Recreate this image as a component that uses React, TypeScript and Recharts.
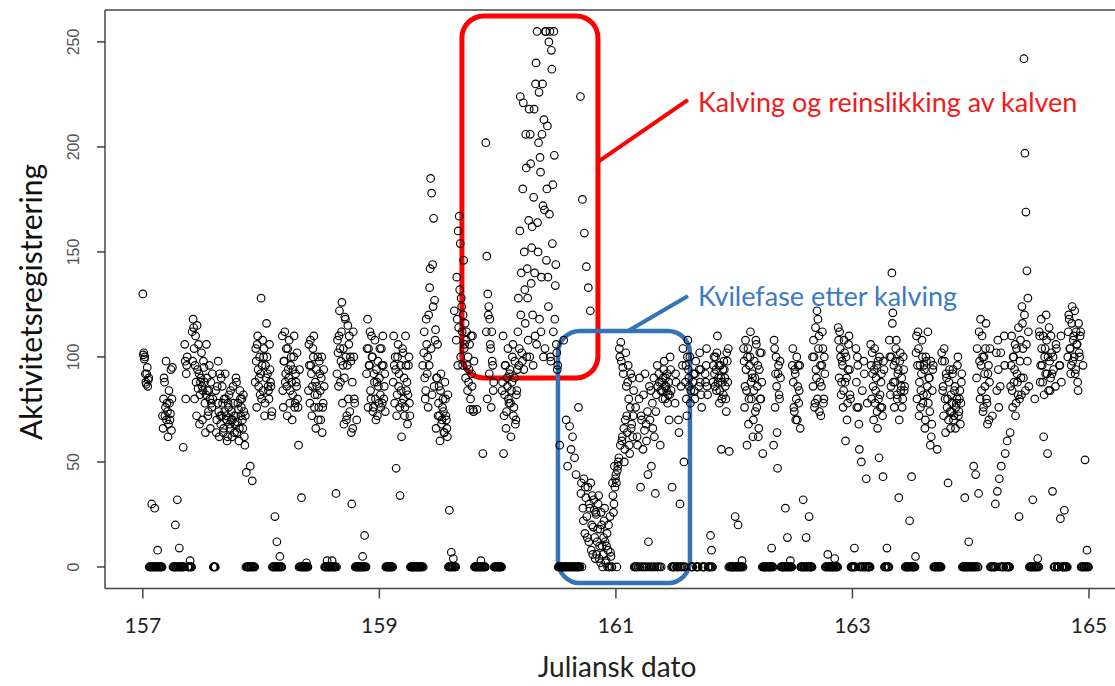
import React from "react";
import { ScatterChart, Scatter, XAxis, YAxis, ReferenceArea, ReferenceLine, Label } from "recharts";

// activity counts, logged every 6 minutes: "a" arrays hold the samples on the
// 12-minute marks, "b" arrays the samples in between (120 + 120 per julian day)
const day157a = [
  130, 102, 100, 88, 92, 86, 90, 0, 0, 30,
  0, 0, 28, 0, 0, 8, 0, 0, 0, 0,
  72, 80, 88, 76, 70, 74, 68, 78, 73, 65,
  95, 0, 0, 20, 0, 32, 0, 9, 0, 0,
  0, 57, 0, 98, 92, 100, 0, 0, 3, 0,
  112, 118, 104, 96, 88, 115, 85, 92, 82, 90,
  86, 84, 95, 78, 82, 90, 72, 84, 80, 88,
  76, 80, 0, 0, 84, 70, 78, 74, 92, 68,
  72, 78, 66, 74, 80, 70, 62, 76, 68, 84,
  74, 70, 78, 64, 72, 88, 69, 75, 66, 80,
  76, 70, 82, 62, 72, 45, 0, 0, 0, 48,
  0, 41, 0, 0, 88, 98, 106, 94, 90, 82,
];
const day157b = [
  101, 99, 92, 87, 95, 89, 0, 0, 0, 0,
  0, 0, 0, 0, 0, 0, 0, 0, 0, 0,
  66, 90, 72, 98, 78, 62, 84, 70, 94, 80,
  0, 0, 0, 0, 0, 0, 0, 0, 0, 0,
  0, 0, 106, 80, 96, 0, 0, 0, 0, 0,
  98, 114, 80, 110, 72, 94, 106, 68, 88, 102,
  70, 98, 88, 64, 106, 84, 74, 96, 66, 78,
  92, 0, 0, 0, 64, 86, 98, 62, 72, 90,
  86, 64, 80, 92, 72, 60, 78, 82, 66, 70,
  62, 86, 72, 68, 90, 64, 78, 60, 84, 72,
  80, 66, 74, 58, 0, 0, 0, 0, 0, 0,
  0, 0, 0, 0, 104, 76, 110, 86, 100, 92,
];
const day158a = [
  128, 96, 84, 104, 78, 90, 100, 86, 80, 94,
  86, 74, 0, 0, 24, 0, 12, 0, 0, 5,
  0, 0, 84, 98, 112, 92, 86, 104, 90, 78,
  96, 88, 82, 100, 76, 92, 86, 80, 58, 94,
  0, 33, 0, 0, 0, 0, 2, 0, 84, 96,
  108, 92, 86, 100, 76, 88, 94, 82, 70, 98,
  84, 90, 64, 78, 86, 0, 0, 3, 0, 0,
  0, 0, 3, 0, 0, 0, 35, 92, 102, 110,
  104, 98, 126, 96, 68, 119, 100, 72, 115, 106,
  74, 98, 30, 66, 100, 78, 0, 70, 0, 0,
  0, 0, 0, 5, 0, 15, 0, 92, 118, 104,
  96, 84, 110, 100, 76, 88, 80, 94, 72, 86,
];
const day158b = [
  80, 108, 100, 72, 96, 116, 92, 84, 106, 88,
  72, 0, 0, 0, 0, 0, 0, 0, 0, 0,
  0, 110, 76, 98, 88, 104, 72, 94, 108, 84,
  100, 70, 94, 110, 78, 88, 102, 76, 0, 0,
  0, 0, 0, 0, 0, 0, 0, 0, 106, 78,
  96, 72, 104, 110, 82, 66, 86, 100, 76, 92,
  70, 100, 76, 94, 0, 0, 0, 0, 0, 0,
  0, 0, 0, 0, 0, 0, 0, 108, 86, 122,
  88, 112, 78, 104, 90, 118, 70, 96, 80, 110,
  100, 64, 88, 112, 80, 0, 0, 0, 0, 0,
  0, 0, 0, 0, 0, 0, 0, 104, 76, 96,
  112, 80, 100, 74, 92, 108, 70, 88, 98, 78,
];
const day159a = [
  90, 82, 104, 78, 96, 86, 74, 0, 0, 0,
  0, 0, 0, 0, 88, 96, 100, 47, 82, 106,
  92, 34, 84, 78, 102, 90, 76, 96, 88, 82,
  100, 72, 0, 0, 0, 0, 0, 0, 0, 0,
  0, 0, 0, 0, 96, 102, 90, 84, 106, 100,
  120, 133, 185, 178, 144, 166, 127, 113, 90, 106,
  78, 72, 84, 68, 76, 74, 64, 80, 70, 62,
  0, 27, 0, 7, 0, 4, 122, 0, 108, 118,
  160, 167, 154, 128, 112, 120, 104, 116, 108, 96,
  100, 94, 75, 110, 86, 75, 98, 0, 0, 75,
  0, 0, 0, 3, 0, 54, 0, 0, 202, 148,
  130, 124, 118, 104, 112, 96, 88, 0, 0, 0,
];
const day159b = [
  104, 76, 96, 110, 80, 92, 0, 0, 0, 0,
  0, 0, 0, 0, 110, 78, 94, 72, 100, 86,
  76, 96, 62, 104, 80, 72, 110, 84, 68, 96,
  78, 0, 0, 0, 0, 0, 0, 0, 0, 0,
  0, 0, 0, 0, 0, 112, 80, 118, 92, 76,
  96, 142, 104, 82, 124, 86, 108, 66, 90, 72,
  86, 60, 92, 70, 80, 64, 88, 72, 66, 82,
  0, 0, 0, 0, 0, 0, 0, 0, 138, 96,
  114, 132, 100, 124, 96, 146, 106, 90, 112, 84,
  88, 106, 80, 92, 110, 74, 0, 0, 0, 0,
  0, 0, 0, 0, 0, 0, 0, 0, 112, 80,
  120, 92, 106, 76, 98, 84, 0, 0, 0, 0,
];
const day160a = [
  0, 0, 0, 0, 0, 88, 54, 82, 96, 74,
  86, 80, 92, 78, 84, 100, 72, 90, 68, 82,
  94, 128, 104, 224, 140, 98, 221, 150, 116, 190,
  142, 108, 218, 206, 135, 162, 96, 218, 110, 240,
  255, 150, 226, 195, 112, 206, 172, 213, 104, 255,
  180, 138, 250, 255, 98, 237, 182, 255, 118, 144,
  102, 96, 0, 58, 0, 0, 0, 108, 0, 0,
  0, 48, 0, 67, 0, 0, 62, 0, 52, 0,
  0, 0, 76, 0, 224, 40, 175, 22, 159, 38,
  143, 14, 133, 30, 122, 8, 34, 19, 27, 4,
  25, 12, 30, 4, 18, 26, 10, 6, 22, 12,
  3, 16, 8, 0, 24, 5, 0, 34, 30, 38,
];
const day160b = [
  0, 0, 0, 0, 84, 110, 72, 96, 66, 90,
  104, 78, 94, 62, 88, 106, 76, 98, 70, 84,
  112, 96, 160, 120, 102, 180, 94, 132, 206, 100,
  128, 165, 100, 192, 152, 120, 176, 140, 230, 106,
  164, 202, 118, 188, 138, 230, 100, 170, 255, 146,
  210, 124, 168, 100, 246, 154, 112, 196, 134, 106,
  94, 0, 0, 0, 0, 0, 0, 0, 0, 70,
  0, 0, 0, 0, 56, 0, 0, 0, 0, 44,
  0, 0, 0, 0, 35, 0, 28, 42, 16, 33,
  24, 38, 12, 28, 40, 20, 6, 32, 14, 26,
  6, 18, 34, 10, 2, 20, 0, 14, 28, 2,
  10, 0, 20, 0, 7, 0, 40, 26, 48, 42,
];
const day161a = [
  44, 0, 48, 52, 100, 107, 60, 95, 66, 56,
  102, 72, 88, 80, 54, 92, 68, 62, 84, 0,
  76, 0, 58, 0, 90, 38, 70, 0, 82, 65,
  0, 60, 74, 12, 86, 0, 48, 78, 0, 62,
  35, 82, 96, 0, 88, 58, 0, 84, 90, 98,
  80, 86, 92, 82, 70, 100, 84, 38, 0, 0,
  78, 88, 0, 0, 64, 30, 86, 0, 104, 50,
  0, 96, 72, 108, 90, 100, 84, 0, 0, 92,
  80, 98, 0, 0, 86, 102, 94, 76, 0, 0,
  0, 88, 104, 82, 0, 0, 15, 8, 0, 96,
  92, 100, 84, 110, 90, 78, 96, 56, 88, 82,
  94, 86, 74, 98, 104, 55, 0, 0, 0, 0,
];
const day161b = [
  40, 46, 50, 104, 58, 98, 62, 92, 50, 70,
  86, 64, 96, 58, 76, 66, 90, 72, 0, 0,
  0, 62, 0, 80, 0, 72, 0, 56, 0, 92,
  68, 0, 44, 0, 70, 84, 0, 66, 90, 0,
  74, 0, 86, 92, 0, 84, 88, 80, 94, 86,
  90, 84, 78, 88, 82, 94, 0, 0, 0, 0,
  92, 0, 0, 70, 0, 0, 0, 96, 0, 0,
  88, 80, 100, 94, 86, 78, 0, 0, 88, 84,
  92, 0, 0, 0, 94, 88, 82, 0, 0, 0,
  92, 96, 86, 0, 0, 0, 0, 0, 88, 100,
  86, 94, 102, 88, 96, 84, 90, 80, 94, 98,
  90, 80, 102, 88, 0, 0, 0, 0, 0, 0,
];
const day162a = [
  0, 24, 0, 0, 20, 0, 0, 0, 3, 0,
  98, 86, 94, 58, 104, 80, 100, 88, 92, 62,
  84, 90, 108, 76, 96, 66, 102, 80, 88, 54,
  0, 0, 0, 0, 0, 0, 0, 0, 9, 0,
  58, 104, 92, 86, 47, 96, 80, 90, 0, 0,
  0, 0, 28, 0, 14, 0, 0, 3, 0, 96,
  88, 74, 92, 80, 70, 96, 84, 66, 0, 0,
  32, 0, 0, 14, 0, 0, 24, 0, 0, 0,
  86, 100, 78, 94, 122, 118, 110, 88, 72, 96,
  104, 80, 92, 0, 0, 6, 0, 0, 0, 0,
  0, 0, 4, 0, 0, 0, 108, 112, 100, 88,
  96, 84, 102, 60, 90, 78, 106, 94, 80, 0,
];
const day162b = [
  0, 0, 0, 0, 0, 0, 0, 0, 0, 104,
  76, 108, 84, 100, 68, 96, 112, 80, 90, 70,
  98, 74, 106, 86, 62, 94, 80, 102, 0, 0,
  0, 0, 0, 0, 0, 0, 0, 0, 0, 0,
  108, 76, 100, 64, 92, 82, 98, 0, 0, 0,
  0, 0, 0, 0, 0, 0, 0, 0, 0, 104,
  76, 94, 70, 100, 86, 78, 96, 0, 0, 0,
  0, 0, 0, 0, 0, 0, 0, 0, 0, 100,
  108, 76, 114, 90, 80, 104, 74, 96, 86, 112,
  78, 100, 0, 0, 0, 0, 0, 0, 0, 0,
  0, 0, 0, 0, 0, 114, 90, 104, 82, 98,
  76, 108, 88, 100, 70, 94, 110, 82, 0, 0,
];
const day163a = [
  0, 0, 9, 0, 88, 100, 76, 56, 0, 50,
  84, 0, 92, 0, 42, 78, 0, 0, 0, 96,
  102, 86, 94, 78, 90, 74, 98, 52, 82, 88,
  76, 43, 94, 0, 0, 9, 0, 0, 100, 86,
  140, 121, 96, 88, 104, 82, 92, 33, 98, 84,
  90, 80, 94, 86, 0, 0, 0, 0, 22, 0,
  43, 0, 0, 0, 5, 110, 96, 104, 88, 76,
  92, 100, 82, 94, 70, 98, 86, 78, 90, 58,
  62, 84, 96, 0, 0, 0, 56, 0, 0, 0,
  0, 98, 86, 104, 80, 92, 76, 40, 88, 74,
  82, 78, 94, 72, 86, 76, 80, 100, 74, 84,
  78, 92, 0, 0, 33, 0, 0, 0, 12, 0,
];
const day163b = [
  0, 0, 0, 104, 76, 96, 68, 0, 0, 0,
  0, 98, 0, 0, 0, 0, 0, 0, 106, 80,
  92, 70, 104, 84, 96, 66, 80, 100, 76, 92,
  72, 98, 0, 0, 0, 0, 0, 108, 82, 100,
  116, 88, 76, 98, 108, 80, 94, 70, 102, 86,
  76, 100, 84, 0, 0, 0, 0, 0, 0, 0,
  0, 0, 0, 0, 102, 80, 112, 72, 96, 84,
  108, 78, 96, 66, 100, 82, 112, 90, 74, 98,
  68, 94, 0, 0, 0, 0, 0, 0, 0, 0,
  102, 84, 72, 98, 64, 90, 80, 70, 94, 66,
  74, 92, 70, 84, 66, 78, 96, 72, 80, 68,
  88, 0, 0, 0, 0, 0, 0, 0, 0, 0,
];
const day164a = [
  0, 0, 0, 48, 0, 44, 90, 0, 35, 98,
  118, 84, 100, 76, 92, 104, 80, 68, 96, 88,
  0, 0, 72, 0, 0, 30, 102, 36, 94, 42,
  86, 48, 0, 0, 110, 54, 0, 60, 0, 0,
  64, 96, 84, 100, 88, 106, 78, 92, 82, 24,
  98, 90, 124, 104, 242, 197, 169, 141, 128, 86,
  0, 0, 0, 32, 0, 80, 0, 0, 4, 0,
  110, 96, 104, 88, 62, 100, 92, 108, 54, 84,
  98, 90, 102, 36, 94, 0, 86, 104, 0, 0,
  96, 23, 88, 0, 0, 27, 0, 0, 0, 112,
  118, 104, 96, 124, 108, 100, 92, 112, 106, 84,
  102, 110, 0, 0, 96, 0, 51, 0, 8, 0,
];
const day164b = [
  0, 0, 0, 0, 0, 0, 104, 0, 112, 80,
  96, 110, 74, 100, 86, 116, 78, 92, 70, 104,
  0, 0, 0, 0, 0, 0, 84, 108, 76, 0,
  102, 0, 0, 0, 96, 0, 0, 0, 0, 0,
  86, 110, 76, 100, 94, 72, 104, 88, 114, 80,
  108, 82, 116, 90, 120, 84, 106, 98, 112, 0,
  0, 0, 0, 0, 0, 0, 0, 0, 0, 112,
  88, 118, 96, 110, 82, 104, 120, 92, 100, 114,
  84, 110, 92, 100, 0, 0, 106, 0, 0, 0,
  96, 110, 0, 0, 0, 0, 0, 0, 100, 120,
  104, 92, 116, 98, 110, 122, 94, 106, 88, 116,
  100, 112, 0, 0, 0, 0, 0, 0, 0, 0,
];

const days = [157, 158, 159, 160, 161, 162, 163, 164];
const onMark = [day157a, day158a, day159a, day160a, day161a, day162a, day163a, day164a];
const between = [day157b, day158b, day159b, day160b, day161b, day162b, day163b, day164b];

const xTicks = [157, 159, 161, 163, 165];
const yTicks = [0, 50, 100, 150, 200, 250];

const points = [
  ...onMark.flatMap((vals, d) => vals.map((v, i) => ({ x: days[d] + i / 120, y: v }))),
  ...between.flatMap((vals, d) => vals.map((v, i) => ({ x: days[d] + (i + 0.5) / 120, y: v }))),
];

const FONT = "Lato, 'Open Sans', sans-serif";

const Ring = (props: any) => (
  <circle cx={props.cx} cy={props.cy} r={3.8} fill="none" stroke="#000" strokeWidth={1.15} />
);

const YTick = (props: any) => {
  const { x, y, payload } = props;
  const bx = x - 16;
  return (
    <text
      x={bx}
      y={y}
      transform={`rotate(-90, ${bx}, ${y})`}
      textAnchor="middle"
      fontSize={16}
      fontFamily="'Liberation Sans', Arial, sans-serif"
      fill="#555"
    >
      {payload.value}
    </text>
  );
};

const CalvingBox = (p: any) => (
  <g>
    <rect x={p.x} y={p.y} width={p.width} height={p.height} rx={22} ry={22}
      fill="none" stroke="#ff0000" strokeWidth={5} />
    <line x1={p.x + p.width} y1={p.y + 146} x2={p.x + p.width + 90} y2={p.y + 84}
      stroke="#ff0000" strokeWidth={4} />
    <text x={p.x + p.width + 100} y={p.y + 96} fill="#f01b1b" fontSize={27} fontFamily={FONT}>
      Kalving og reinslikking av kalven
    </text>
  </g>
);

const RestBox = (p: any) => (
  <g>
    <rect x={p.x} y={p.y} width={p.width} height={p.height} rx={22} ry={22}
      fill="none" stroke="#3473b5" strokeWidth={4.5} />
    <line x1={p.x + 70} y1={p.y} x2={p.x + 130} y2={p.y - 35}
      stroke="#3473b5" strokeWidth={4} />
    <text x={p.x + 140} y={p.y - 25} fill="#3b7bbf" fontSize={27} fontFamily={FONT}>
      Kvilefase etter kalving
    </text>
  </g>
);

export default function App() {
  return (
    <div style={{ position: "absolute", left: 0, top: 0, width: 1115, height: 686, background: "#fff" }}>
      <ScatterChart width={1115} height={686} margin={{ top: 10, right: 0, bottom: 0, left: 0 }}>
        <XAxis
          type="number"
          dataKey="x"
          domain={[156.68, 165.22]}
          ticks={xTicks}
          allowDataOverflow
          height={97.6}
          tickSize={10}
          tickMargin={20}
          axisLine={{ stroke: "#444", strokeWidth: 1.5 }}
          tickLine={{ stroke: "#444", strokeWidth: 1.5 }}
          tick={{ fontSize: 21, fill: "#222", fontFamily: FONT }}
        >
          <Label
            content={() => (
              <text x={617} y={677} textAnchor="middle" fontSize={28} fill="#222" fontFamily={FONT}>
                Juliansk dato
              </text>
            )}
          />
        </XAxis>
        <YAxis
          type="number"
          dataKey="y"
          domain={[-10.2, 265.2]}
          ticks={yTicks}
          allowDataOverflow
          width={105}
          tickSize={8}
          axisLine={{ stroke: "#444", strokeWidth: 1.5 }}
          tickLine={{ stroke: "#444", strokeWidth: 1.5 }}
          tick={<YTick />}
        >
          <Label
            content={() => (
              <text x={42} y={302} transform="rotate(-90, 42, 302)" textAnchor="middle"
                fontSize={30} fill="#111" fontFamily={FONT}>
                Aktivitetsregistrering
              </text>
            )}
          />
        </YAxis>
        <ReferenceLine y={265.2} stroke="#444" strokeWidth={1.5} />
        <Scatter data={points} shape={<Ring />} isAnimationActive={false} />
        <ReferenceArea x1={159.698} x2={160.848} y1={90} y2={262.4} shape={<CalvingBox />} />
        <ReferenceArea x1={160.51} x2={161.626} y1={-7.62} y2={112.4} shape={<RestBox />} />
      </ScatterChart>
    </div>
  );
}
